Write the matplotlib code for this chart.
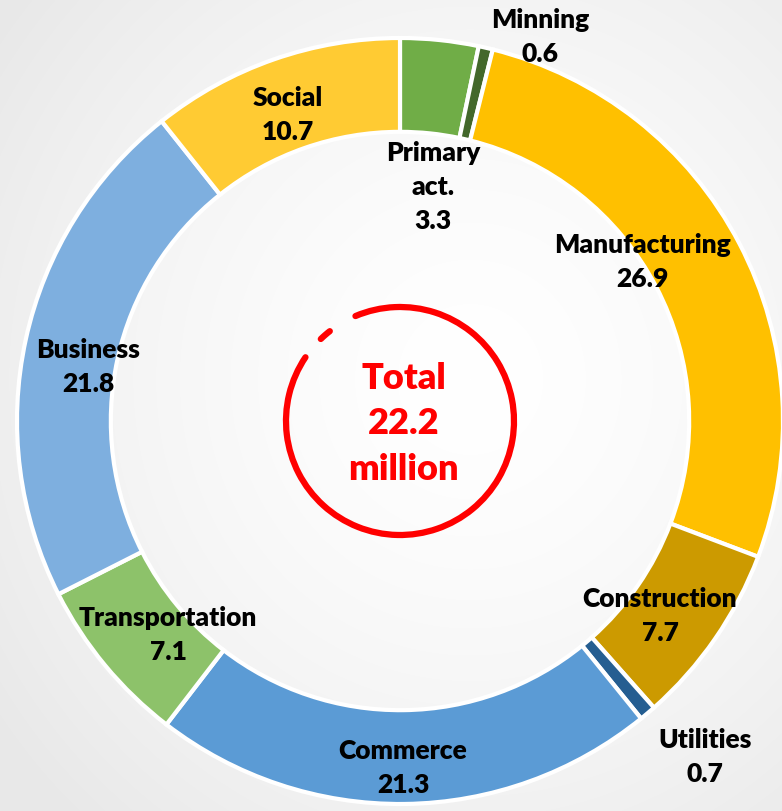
import numpy as np
import matplotlib.pyplot as plt
from matplotlib.patches import Arc

# employment by sector, %
sectors = ['Primary\nact.', 'Minning', 'Manufacturing', 'Construction', 'Utilities',
           'Commerce', 'Transportation', 'Business', 'Social']
shares = [3.3, 0.6, 26.9, 7.7, 0.7, 21.3, 7.1, 21.8, 10.7]
colors = ['#70AD47', '#43682B', '#FFC000', '#CC9A00', '#255E91',
          '#5B9BD5', '#8DC26A', '#7EAFDF', '#FFCB33']
total_text = 'Total\n22.2\nmillion'

# label centres (pixel coords in the 782x812 picture)
label_px = [(433, 187), (540, 37), (642, 262), (660, 616), (705, 757),
            (403, 768), (168, 635), (88, 367), (288, 115)]

W, H = 782, 812
cx, cy, R = 400, 422, 383


def to_data(px, py):
    return (px - cx) / R, (cy - py) / R


fig = plt.figure(figsize=(W / 100, H / 100), dpi=100)
ax = fig.add_axes([0, 0, 1, 1])

# faint grey background, whiter towards the middle
yy, xx = np.mgrid[0:H, 0:W]
d = np.hypot((xx - 470) / W, (yy - 380) / H)
bg = 1 - 0.09 * np.clip(d / 0.75, 0, 1) ** 1.5
ax.imshow(np.dstack([bg, bg, bg]), extent=(-cx / R, (W - cx) / R, (cy - H) / R, cy / R),
          zorder=0, aspect='auto')

ax.pie(shares, colors=colors, startangle=90, counterclock=False, radius=1,
       wedgeprops=dict(width=0.245, edgecolor='white', linewidth=3))
ax.set_xlim(-cx / R, (W - cx) / R)
ax.set_ylim((cy - H) / R, cy / R)
ax.set_aspect('equal')
ax.axis('off')

for name, val, (px, py) in zip(sectors, shares, label_px):
    x, y = to_data(px, py)
    ax.text(x, y, f'{name}\n{val}', ha='center', va='center', fontsize=19,
            fontweight='heavy', family='Lato', color='black', linespacing=1.5, zorder=5)

# red circle around the total
rc = 114 / R
red = '#FF0000'
ax.add_patch(Arc((0, 0), 2 * rc, 2 * rc, theta1=146, theta2=113 + 360,
                 color=red, lw=4.5, capstyle='round', zorder=4))
ax.add_patch(Arc((0, 0), 2 * rc, 2 * rc, theta1=128, theta2=134,
                 color=red, lw=4.5, capstyle='round', zorder=4))
ax.text(0.01, -0.005, total_text, ha='center', va='center', fontsize=26,
        fontweight='heavy', family='Lato', color=red, linespacing=1.45, zorder=5)

fig.savefig('out.png', dpi=100)
